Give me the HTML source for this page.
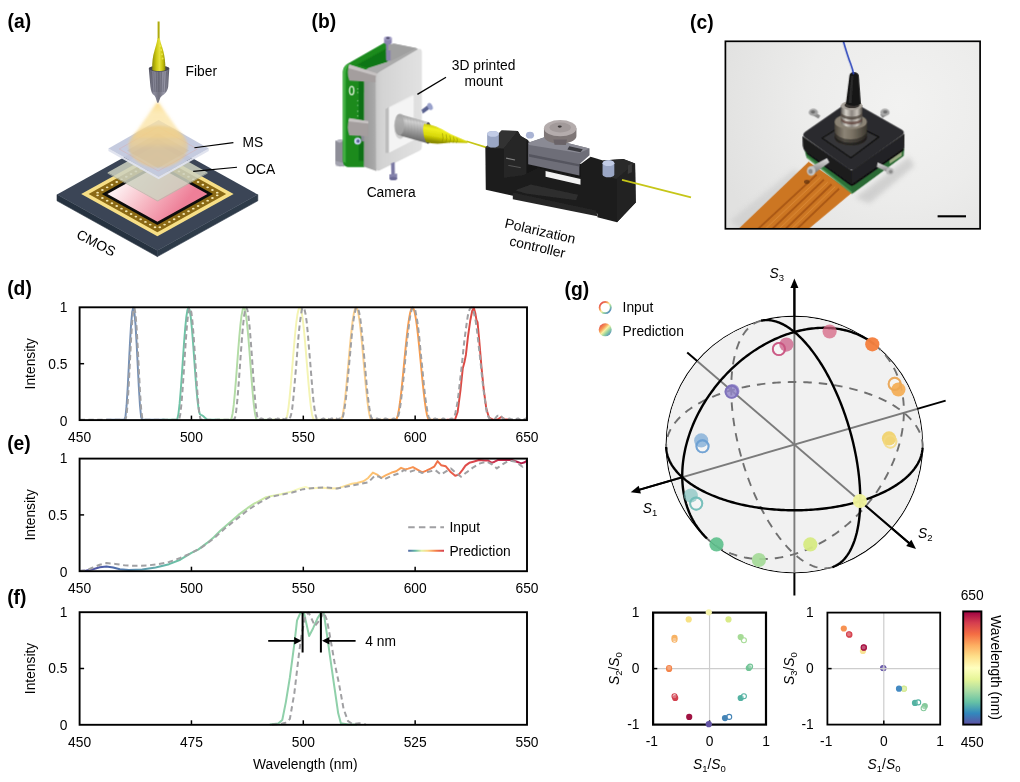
<!DOCTYPE html>
<html lang="en"><head><meta charset="utf-8"><title>Figure</title>
<style>
html,body{margin:0;padding:0;background:#fff;}
body{width:1020px;height:782px;overflow:hidden;font-family:"Liberation Sans",sans-serif;}
svg{display:block;}
text{font-family:"Liberation Sans",sans-serif;fill:#000;}
.lb{font-size:19.3px;font-weight:bold;}
.t{font-size:13.8px;}
.tk{font-size:13.8px;}
.it{font-style:italic;}
</style></head><body>
<svg width="1020" height="782" viewBox="0 0 1020 782">
<defs>

<clipPath id="cpd"><rect x="79.60" y="306.30" width="447.40" height="114.80"/></clipPath>
<linearGradient id="ge" gradientUnits="userSpaceOnUse" x1="79.60" y1="0" x2="527.00" y2="0"><stop offset="0.000" stop-color="#5e4fa2"/><stop offset="0.060" stop-color="#4a5fa8"/><stop offset="0.125" stop-color="#5a90b0"/><stop offset="0.200" stop-color="#66bba6"/><stop offset="0.275" stop-color="#7fcaa4"/><stop offset="0.375" stop-color="#b4dfa2"/><stop offset="0.440" stop-color="#e4f3a6"/><stop offset="0.500" stop-color="#fbfbc4"/><stop offset="0.575" stop-color="#fde9a0"/><stop offset="0.640" stop-color="#fdc878"/><stop offset="0.710" stop-color="#fba558"/><stop offset="0.780" stop-color="#f47d48"/><stop offset="0.850" stop-color="#e3524a"/><stop offset="0.925" stop-color="#cc3550"/><stop offset="1.000" stop-color="#b01848"/></linearGradient>
<linearGradient id="gl" gradientUnits="userSpaceOnUse" x1="408" y1="0" x2="444" y2="0"><stop offset="0" stop-color="#4f62a6"/><stop offset="0.2" stop-color="#66bba6"/><stop offset="0.38" stop-color="#e4f3a6"/><stop offset="0.55" stop-color="#fdd484"/><stop offset="0.78" stop-color="#f47d48"/><stop offset="1" stop-color="#d53e4f"/></linearGradient>
<clipPath id="cps"><circle cx="794.40" cy="444.60" r="127.80"/></clipPath>
<linearGradient id="glg" x1="0.1" y1="0.1" x2="0.9" y2="0.9"><stop offset="0" stop-color="#e2484c"/><stop offset="0.3" stop-color="#f79a55"/><stop offset="0.5" stop-color="#f6f0a0"/><stop offset="0.72" stop-color="#8fd0a0"/><stop offset="1" stop-color="#4f86c0"/></linearGradient>
<linearGradient id="gcb" x1="0" y1="0" x2="0" y2="1"><stop offset="0.00" stop-color="#9e0142"/><stop offset="0.10" stop-color="#d53e4f"/><stop offset="0.20" stop-color="#f46d43"/><stop offset="0.30" stop-color="#fdae61"/><stop offset="0.40" stop-color="#fee08b"/><stop offset="0.50" stop-color="#ffffbf"/><stop offset="0.60" stop-color="#e6f598"/><stop offset="0.70" stop-color="#abdda4"/><stop offset="0.80" stop-color="#66c2a5"/><stop offset="0.90" stop-color="#3288bd"/><stop offset="1.00" stop-color="#5e4fa2"/></linearGradient>
<filter id="bl04" x="-5%" y="-5%" width="110%" height="110%"><feGaussianBlur stdDeviation="0.45"/></filter>
<filter id="bl2" x="-20%" y="-20%" width="140%" height="140%"><feGaussianBlur stdDeviation="2.2"/></filter>
<linearGradient id="gpk" gradientUnits="userSpaceOnUse" x1="128" y1="176" x2="176" y2="214"><stop offset="0" stop-color="#fdeef0"/><stop offset="0.45" stop-color="#f7bcc6"/><stop offset="1" stop-color="#ee7f98"/></linearGradient>
<linearGradient id="gcone" gradientUnits="userSpaceOnUse" x1="0" y1="102" x2="0" y2="150"><stop offset="0" stop-color="#fbd87e" stop-opacity="0.85"/><stop offset="0.25" stop-color="#fce3a0" stop-opacity="0.6"/><stop offset="1" stop-color="#f8dc96" stop-opacity="0.42"/></linearGradient>
<filter id="bl1" x="-20%" y="-20%" width="140%" height="140%"><feGaussianBlur stdDeviation="1.3"/></filter>
<linearGradient id="gfy" x1="0" y1="0" x2="1" y2="0"><stop offset="0" stop-color="#8e8c06"/><stop offset="0.3" stop-color="#c9c60e"/><stop offset="0.55" stop-color="#e6e23a"/><stop offset="0.8" stop-color="#c4c00c"/><stop offset="1" stop-color="#8a8804"/></linearGradient>
<linearGradient id="gfg" x1="0" y1="0" x2="1" y2="0"><stop offset="0" stop-color="#555564"/><stop offset="0.25" stop-color="#8c8c9c"/><stop offset="0.5" stop-color="#70707e"/><stop offset="0.75" stop-color="#9a9aaa"/><stop offset="1" stop-color="#5a5a68"/></linearGradient>
<filter id="blb" x="-5%" y="-5%" width="110%" height="110%"><feGaussianBlur stdDeviation="2.2"/></filter>
<filter id="blb2" x="-5%" y="-5%" width="110%" height="110%"><feGaussianBlur stdDeviation="2.0"/></filter>
<linearGradient id="gbf" gradientUnits="userSpaceOnUse" x1="272" y1="300" x2="500" y2="300"><stop offset="0" stop-color="#c9c9c9"/><stop offset="0.12" stop-color="#d3d3d3"/><stop offset="0.6" stop-color="#dcdcdc"/><stop offset="1" stop-color="#e2e2e2"/></linearGradient>
<linearGradient id="gbs" gradientUnits="userSpaceOnUse" x1="214" y1="0" x2="280" y2="0"><stop offset="0" stop-color="#9a9a9a"/><stop offset="0.7" stop-color="#a6a6a6"/><stop offset="1" stop-color="#b2b2b2"/></linearGradient>
<linearGradient id="gbk" gradientUnits="userSpaceOnUse" x1="440" y1="410" x2="420" y2="530"><stop offset="0" stop-color="#8a8a8a"/><stop offset="0.3" stop-color="#d2d2d2"/><stop offset="0.6" stop-color="#a4a4a4"/><stop offset="1" stop-color="#6c6c6c"/></linearGradient>
<linearGradient id="gby" gradientUnits="userSpaceOnUse" x1="600" y1="460" x2="585" y2="550"><stop offset="0" stop-color="#b4b400"/><stop offset="0.35" stop-color="#f0f020"/><stop offset="0.7" stop-color="#d8d808"/><stop offset="1" stop-color="#8c8c00"/></linearGradient>
<clipPath id="cpc"><rect x="725.4" y="41.3" width="254.7" height="187.5"/></clipPath>
<filter id="blc" x="-5%" y="-5%" width="110%" height="110%"><feGaussianBlur stdDeviation="3"/></filter>
<filter id="blc8" x="-30%" y="-30%" width="160%" height="160%"><feGaussianBlur stdDeviation="14"/></filter>
<radialGradient id="gcbg" gradientUnits="userSpaceOnUse" cx="900" cy="105" r="190"><stop offset="0" stop-color="#f2f2f1"/><stop offset="0.5" stop-color="#ececeb"/><stop offset="1" stop-color="#e1e1e0"/></radialGradient>
<linearGradient id="gcm" gradientUnits="userSpaceOnUse" x1="305" y1="0" x2="485" y2="0"><stop offset="0" stop-color="#4c463c"/><stop offset="0.3" stop-color="#8c8476"/><stop offset="0.55" stop-color="#7a7264"/><stop offset="1" stop-color="#3e3a32"/></linearGradient>
<linearGradient id="gcs" gradientUnits="userSpaceOnUse" x1="338" y1="0" x2="462" y2="0"><stop offset="0" stop-color="#5a5650"/><stop offset="0.25" stop-color="#d8d4cc"/><stop offset="0.5" stop-color="#8c8680"/><stop offset="0.75" stop-color="#c8c2ba"/><stop offset="1" stop-color="#4a4640"/></linearGradient>
<linearGradient id="gcsc" x1="0" y1="0" x2="0" y2="1"><stop offset="0" stop-color="#e4e4e4"/><stop offset="0.5" stop-color="#a8a8a8"/><stop offset="1" stop-color="#6c6c6c"/></linearGradient>
</defs>
<rect width="1020" height="782" fill="#fff"/>
<g id="p_labels">
<text class="lb" x="7.6" y="27.6">(a)</text>
<text class="lb" x="311.6" y="27.6">(b)</text>
<text class="lb" x="690.0" y="28.6">(c)</text>
<text class="lb" x="7.2" y="294.6">(d)</text>
<text class="lb" x="7.2" y="449.6">(e)</text>
<text class="lb" x="7.2" y="604">(f)</text>
<text class="lb" x="564.6" y="296">(g)</text>
</g>
<g id="p_plots">
<g clip-path="url(#cpd)">
<path d="M106.44 419.80 L107.56 419.80 L108.68 419.80 L109.80 419.80 L110.92 419.80 L112.04 419.80 L113.16 419.80 L114.27 419.80 L115.39 419.80 L116.51 419.80 L117.63 419.80 L118.75 419.80 L119.87 419.80 L120.98 419.80 L122.10 419.80 L123.22 419.80 L124.34 419.80 L125.46 416.91 L126.58 405.69 L127.70 387.75 L128.81 365.96 L129.93 343.81 L131.05 324.84 L132.17 312.09 L133.29 307.60 L134.41 312.09 L135.52 324.84 L136.64 343.81 L137.76 365.96 L138.88 387.75 L140.00 405.69 L141.12 416.91 L142.24 419.80 L143.35 419.80 L144.47 419.80 L145.59 419.80 L146.71 419.80 L147.83 419.80 L148.95 419.80 L150.07 419.80 L151.18 419.80 L152.30 419.80 L153.42 419.80 L154.54 419.80 L155.66 419.80 L156.78 419.80 L157.89 419.80 L159.01 419.80 L160.13 419.80 L161.25 419.80 L162.37 419.80 L163.49 419.80 L164.61 419.80" fill="none" stroke="#7690b4" stroke-width="1.95" stroke-linejoin="round"/>
<path d="M161.70 419.80 L162.82 419.80 L163.93 419.80 L165.05 419.80 L166.17 419.80 L167.29 419.80 L168.41 419.80 L169.53 419.80 L170.65 419.80 L171.76 419.80 L172.88 419.80 L174.00 419.80 L175.12 419.80 L176.24 419.80 L177.36 418.92 L178.48 413.61 L179.59 403.95 L180.71 390.78 L181.83 375.26 L182.95 358.72 L184.07 342.62 L185.19 328.35 L186.30 317.17 L187.42 310.05 L188.54 307.60 L189.66 310.05 L190.78 317.17 L191.90 328.34 L193.02 342.31 L194.13 357.74 L195.25 373.35 L196.37 387.84 L197.49 400.05 L198.61 408.97 L199.73 413.90 L200.85 414.83 L201.96 415.28 L203.08 416.07 L204.20 417.07 L205.32 418.10 L206.44 418.99 L207.56 419.59 L208.67 419.80 L209.79 419.80 L210.91 419.80 L212.03 419.80 L213.15 419.80 L214.27 419.80 L215.39 419.80 L216.50 419.80 L217.62 419.80 L218.74 419.80 L219.86 419.80" fill="none" stroke="#6fc3a6" stroke-width="1.95" stroke-linejoin="round"/>
<path d="M216.95 419.80 L218.07 419.80 L219.19 419.80 L220.31 419.80 L221.43 419.80 L222.54 419.80 L223.66 419.80 L224.78 419.80 L225.90 419.80 L227.02 419.80 L228.14 419.80 L229.26 419.80 L230.37 419.80 L231.49 418.53 L232.61 413.48 L233.73 404.92 L234.85 393.46 L235.97 379.90 L237.08 365.19 L238.20 350.39 L239.32 336.52 L240.44 324.56 L241.56 315.37 L242.68 309.58 L243.80 307.60 L244.91 309.58 L246.03 315.37 L247.15 324.56 L248.27 336.52 L249.39 350.39 L250.51 365.19 L251.63 379.90 L252.74 393.46 L253.86 404.92 L254.98 413.48 L256.10 418.53 L257.22 419.80 L258.34 419.80 L259.45 419.80 L260.57 419.80 L261.69 419.80 L262.81 419.80 L263.93 419.80 L265.05 419.80 L266.17 419.80 L267.28 419.80 L268.40 419.80 L269.52 419.80 L270.64 419.80 L271.76 419.80 L272.88 419.80 L274.00 419.80 L275.11 419.80" fill="none" stroke="#b3dca6" stroke-width="1.95" stroke-linejoin="round"/>
<path d="M272.88 419.80 L274.00 419.80 L275.11 419.80 L276.23 419.80 L277.35 419.80 L278.47 419.80 L279.59 419.80 L280.71 419.80 L281.82 419.80 L282.94 419.80 L284.06 419.80 L285.18 419.80 L286.30 418.72 L287.42 414.41 L288.54 407.07 L289.65 397.12 L290.77 385.17 L291.89 371.93 L293.01 358.20 L294.13 344.80 L295.25 332.53 L296.37 322.13 L297.48 314.22 L298.60 309.28 L299.72 307.60 L300.84 309.28 L301.96 314.22 L303.08 322.13 L304.19 332.53 L305.31 344.80 L306.43 358.20 L307.55 371.93 L308.67 385.17 L309.79 397.12 L310.91 407.07 L312.02 414.41 L313.14 418.72 L314.26 419.80 L315.38 419.80 L316.50 419.80 L317.62 419.80 L318.74 419.80 L319.85 419.80 L320.97 419.80 L322.09 419.80 L323.21 419.80 L324.33 419.80 L325.45 419.80 L326.56 419.80 L327.68 419.80 L328.80 419.80 L329.92 419.80 L331.04 419.80" fill="none" stroke="#f4f4b4" stroke-width="1.95" stroke-linejoin="round"/>
<path d="M329.25 419.80 L330.37 419.80 L331.49 419.80 L332.60 419.80 L333.72 419.80 L334.84 419.80 L335.96 419.80 L337.08 419.80 L338.20 419.80 L339.32 419.80 L340.43 419.80 L341.55 418.87 L342.67 415.16 L343.79 408.78 L344.91 400.09 L346.03 389.51 L347.15 377.60 L348.26 364.98 L349.38 352.29 L350.50 340.18 L351.62 329.30 L352.74 320.18 L353.86 313.32 L354.97 309.05 L356.09 307.60 L357.21 309.05 L358.33 313.32 L359.45 320.18 L360.57 329.30 L361.69 340.18 L362.80 352.29 L363.92 364.98 L365.04 377.60 L366.16 389.51 L367.28 400.09 L368.40 408.78 L369.52 415.16 L370.63 418.87 L371.75 419.80 L372.87 419.80 L373.99 419.80 L375.11 419.80 L376.23 419.80 L377.34 419.80 L378.46 419.80 L379.58 419.80 L380.70 419.80 L381.82 419.80 L382.94 419.80 L384.06 419.80 L385.17 419.80 L386.29 419.80 L387.41 419.80" fill="none" stroke="#fbcf8e" stroke-width="1.95" stroke-linejoin="round"/>
<path d="M385.62 419.80 L386.74 419.80 L387.86 419.80 L388.98 419.80 L390.10 419.80 L391.21 419.80 L392.33 419.80 L393.45 419.80 L394.57 419.80 L395.69 419.80 L396.81 418.57 L397.93 414.95 L399.04 409.09 L400.16 401.24 L401.28 391.75 L402.40 381.04 L403.52 369.56 L404.64 357.84 L405.75 346.36 L406.87 335.65 L407.99 326.16 L409.11 318.31 L410.23 312.45 L411.35 308.83 L412.47 307.60 L413.58 308.83 L414.70 312.45 L415.82 318.31 L416.94 326.16 L418.06 335.65 L419.18 346.36 L420.30 357.84 L421.41 369.56 L422.53 381.04 L423.65 391.75 L424.77 401.24 L425.89 409.09 L427.01 414.95 L428.12 418.57 L429.24 419.80 L430.36 419.80 L431.48 419.80 L432.60 419.80 L433.72 419.80 L434.84 419.80 L435.95 419.80 L437.07 419.80 L438.19 419.80 L439.31 419.80 L440.43 419.80 L441.55 419.80 L442.67 419.80 L443.78 419.80" fill="none" stroke="#f89c4e" stroke-width="1.95" stroke-linejoin="round"/>
<path d="M446.47 419.80 L454.97 419.80 L457.65 411.95 L460.56 389.51 L462.80 368.19 L464.36 362.58 L465.93 354.72 L467.94 336.77 L470.18 321.06 L472.19 310.97 L473.76 307.60 L475.33 313.21 L476.44 319.94 L477.56 322.19 L479.13 339.02 L481.37 365.94 L483.60 388.38 L486.29 408.58 L488.97 417.56 L493.44 419.80 L497.92 419.24 L501.27 417.00 L504.63 419.24 L509.10 419.80" fill="none" stroke="#dc4a44" stroke-width="1.95" stroke-linejoin="round"/>
<path d="M79.60 419.80 L80.72 419.80 L81.84 419.80 L82.96 419.80 L84.07 419.80 L85.19 419.80 L86.31 419.80 L87.43 419.80 L88.55 419.80 L89.67 419.80 L90.78 419.80 L91.90 419.80 L93.02 419.80 L94.14 419.80 L95.26 419.80 L96.38 419.80 L97.50 419.80 L98.61 419.80 L99.73 419.80 L100.85 419.80 L101.97 419.80 L103.09 419.80 L104.21 419.80 L105.33 419.80 L106.44 419.80 L107.56 419.80 L108.68 419.80 L109.80 419.80 L110.92 419.80 L112.04 419.80 L113.16 419.80 L114.27 419.80 L115.39 419.80 L116.51 419.80 L117.63 419.80 L118.75 419.80 L119.87 419.80 L120.98 419.80 L122.10 419.80 L123.22 419.80 L124.34 419.80 L125.46 419.80 L126.58 415.31 L127.70 402.56 L128.81 383.59 L129.93 361.44 L131.05 339.65 L132.17 321.71 L133.29 310.49 L134.41 307.78 L135.52 314.03 L136.64 328.22 L137.76 348.09 L138.88 370.46 L140.00 391.75 L141.12 408.55 L142.24 418.17 L143.35 419.80 L144.47 419.80 L145.59 419.80 L146.71 419.80 L147.83 419.80 L148.95 419.80 L150.07 419.80 L151.18 419.80 L152.30 419.80 L153.42 419.80 L154.54 419.80 L155.66 419.80 L156.78 419.80 L157.89 419.80 L159.01 419.80 L160.13 419.80 L161.25 419.80 L162.37 419.80 L163.49 419.80 L164.61 419.80 L165.72 419.80 L166.84 419.80 L167.96 419.80 L169.08 419.80 L170.20 419.80 L171.32 419.80 L172.44 419.80 L173.55 419.80 L174.67 419.80 L175.79 419.80 L176.91 419.80 L178.03 419.80 L179.15 419.36 L180.26 414.46 L181.38 404.60 L182.50 390.73 L183.62 374.21 L184.74 356.67 L185.86 339.81 L186.98 325.30 L188.09 314.54 L189.21 308.59 L190.33 308.04 L191.45 312.94 L192.57 322.80 L193.69 336.67 L194.81 353.19 L195.92 370.73 L197.04 387.59 L198.16 402.10 L199.28 412.86 L200.40 418.81 L201.52 419.80 L202.63 419.80 L203.75 419.80 L204.87 419.80 L205.99 419.80 L207.11 419.80 L208.23 419.80 L209.35 419.80 L210.46 419.80 L211.58 419.80 L212.70 419.80 L213.82 419.80 L214.94 419.80 L216.06 419.80 L217.18 419.80 L218.29 419.80 L219.41 419.80 L220.53 419.80 L221.65 419.80 L222.77 419.80 L223.89 419.80 L225.00 419.80 L226.12 419.80 L227.24 419.80 L228.36 419.80 L229.48 419.80 L230.60 419.80 L231.72 419.80 L232.83 419.80 L233.95 419.80 L235.07 417.53 L236.19 410.89 L237.31 400.44 L238.43 387.00 L239.55 371.68 L240.66 355.72 L241.78 340.40 L242.90 326.96 L244.02 316.51 L245.14 309.87 L246.26 307.60 L247.37 309.87 L248.49 316.51 L249.61 326.96 L250.73 340.40 L251.85 355.72 L252.97 371.68 L254.09 387.00 L255.20 400.44 L256.32 410.89 L257.44 417.53 L258.56 419.80 L259.68 419.52 L260.80 418.62 L261.92 418.53 L263.03 419.30 L264.15 419.19 L265.27 418.50 L266.39 418.69 L267.51 419.64 L268.63 418.90 L269.75 418.45 L270.86 418.92 L271.98 419.61 L273.10 418.68 L274.22 418.50 L275.34 419.21 L276.46 419.28 L277.57 418.52 L278.69 418.64 L279.81 419.54 L280.93 418.98 L282.05 418.46 L283.17 418.85 L284.29 419.71 L285.40 418.73 L286.52 418.48 L287.64 419.12 L288.76 419.37 L289.88 418.27 L291.00 415.10 L292.12 409.39 L293.23 399.50 L294.35 387.07 L295.47 373.97 L296.59 360.84 L297.71 345.90 L298.83 332.69 L299.94 322.28 L301.06 314.32 L302.18 308.19 L303.30 307.60 L304.42 308.94 L305.54 314.00 L306.66 321.72 L307.77 332.94 L308.89 346.79 L310.01 359.93 L311.13 373.65 L312.25 387.56 L313.37 400.01 L314.49 408.60 L315.60 415.02 L316.72 418.96 L317.84 419.24 L318.96 418.51 L320.08 418.66 L321.20 419.58 L322.31 418.94 L323.43 418.45 L324.55 418.88 L325.67 419.67 L326.79 418.71 L327.91 418.49 L329.03 419.16 L330.14 419.33 L331.26 418.54 L332.38 418.61 L333.50 419.49 L334.62 419.02 L335.74 418.46 L336.86 418.81 L337.97 419.77 L339.09 418.77 L340.21 418.47 L341.33 419.07 L342.45 418.50 L343.57 413.94 L344.68 407.55 L345.80 399.67 L346.92 388.82 L348.04 376.28 L349.16 363.92 L350.28 352.22 L351.40 339.22 L352.51 327.95 L353.63 319.37 L354.75 313.04 L355.87 307.88 L356.99 307.60 L358.11 308.54 L359.23 312.71 L360.34 318.88 L361.46 328.18 L362.58 340.01 L363.70 351.40 L364.82 363.63 L365.94 376.72 L367.05 389.33 L368.17 398.97 L369.29 407.48 L370.41 414.56 L371.53 418.36 L372.65 418.53 L373.77 418.63 L374.88 419.53 L376.00 418.99 L377.12 418.46 L378.24 418.84 L379.36 419.72 L380.48 418.74 L381.60 418.48 L382.71 419.11 L383.83 419.38 L384.95 418.56 L386.07 418.58 L387.19 419.43 L388.31 419.07 L389.42 418.47 L390.54 418.77 L391.66 419.78 L392.78 418.80 L393.90 418.46 L395.02 419.03 L396.14 419.48 L397.25 418.16 L398.37 415.42 L399.49 411.22 L400.61 403.95 L401.73 394.40 L402.85 384.35 L403.96 374.09 L405.08 361.60 L406.20 349.54 L407.32 338.96 L408.44 329.56 L409.56 320.09 L410.68 313.25 L411.79 309.44 L412.91 307.60 L414.03 307.60 L415.15 309.57 L416.27 315.49 L417.39 321.96 L418.51 330.34 L419.62 341.03 L420.74 353.07 L421.86 363.79 L422.98 375.20 L424.10 386.94 L425.22 397.16 L426.34 404.91 L427.45 411.67 L428.57 417.08 L429.69 418.83 L430.81 418.46 L431.93 418.80 L433.05 419.78 L434.16 418.77 L435.28 418.47 L436.40 419.07 L437.52 419.44 L438.64 418.59 L439.76 418.56 L440.88 419.38 L441.99 419.12 L443.11 418.48 L444.23 418.74 L445.35 419.72 L446.47 418.84 L447.59 418.46 L448.70 418.98 L449.82 419.53 L450.94 418.63 L452.06 418.53 L453.18 419.13 L454.30 417.25 L455.42 412.81 L456.53 407.46 L457.65 401.27 L458.77 392.08 L459.89 382.09 L461.01 372.32 L462.13 362.47 L463.25 350.99 L464.36 340.68 L465.48 332.04 L466.60 323.90 L467.72 316.31 L468.84 311.22 L469.96 308.76 L471.07 307.60 L472.19 307.60 L473.31 309.86 L474.43 315.23 L475.55 320.44 L476.67 327.87 L477.79 337.44 L478.90 347.58 L480.02 357.17 L481.14 367.78 L482.26 379.04 L483.38 388.54 L484.50 396.87 L485.62 404.87 L486.73 412.07 L487.85 415.59 L488.97 417.82 L490.09 419.02 L491.21 419.49 L492.33 418.61 L493.44 418.54 L494.56 419.01 L495.68 418.00 L496.80 416.29 L497.92 415.66 L499.04 416.30 L500.16 415.84 L501.27 416.25 L502.39 417.78 L503.51 419.27 L504.63 418.66 L505.75 418.51 L506.87 419.24 L507.99 419.25 L509.10 418.52 L510.22 418.65 L511.34 419.57 L512.46 418.96 L513.58 418.45 L514.70 418.87 L515.81 419.69 L516.93 418.72 L518.05 418.48 L519.17 419.15 L520.29 419.35 L521.41 418.55 L522.53 418.60 L523.64 419.47 L524.76 419.04 L525.88 418.46 L527.00 418.80" fill="none" stroke="#a0a0a3" stroke-width="2" stroke-dasharray="5.4 3.4" stroke-linejoin="round"/>
</g>
<rect x="79.60" y="307.30" width="447.40" height="112.80" fill="none" stroke="#000" stroke-width="1.9"/>
<path d="M79.60 363.70h4.5" stroke="#000" stroke-width="1.5" fill="none"/>
<path d="M191.45 420.10v-4.5" stroke="#000" stroke-width="1.5" fill="none"/>
<path d="M303.30 420.10v-4.5" stroke="#000" stroke-width="1.5" fill="none"/>
<path d="M415.15 420.10v-4.5" stroke="#000" stroke-width="1.5" fill="none"/>
<text class="tk" text-anchor="middle" x="79.60" y="442.30">450</text>
<text class="tk" text-anchor="middle" x="191.45" y="442.30">500</text>
<text class="tk" text-anchor="middle" x="303.30" y="442.30">550</text>
<text class="tk" text-anchor="middle" x="415.15" y="442.30">600</text>
<text class="tk" text-anchor="middle" x="527.00" y="442.30">650</text>
<text class="tk" text-anchor="end" x="67.4" y="312.10">1</text>
<text class="tk" text-anchor="end" x="67.4" y="368.50">0.5</text>
<text class="tk" text-anchor="end" x="67.4" y="425.70">0</text>
<text class="t" text-anchor="middle" transform="translate(35.3 363.70) rotate(-90)">Intensity</text>
<path d="M79.60 570.90 L86.31 570.56 L93.02 569.22 L99.73 567.32 L106.44 566.42 L113.16 567.54 L119.87 569.22 L128.81 570.00 L142.24 569.56 L155.66 567.54 L169.08 564.18 L180.26 559.70 L191.45 552.98 L198.16 549.62 L207.11 542.90 L213.82 537.30 L220.53 530.58 L229.48 522.74 L238.43 514.90 L247.37 508.18 L254.09 503.70 L258.56 501.46 L265.27 497.54 L271.98 495.86 L280.93 494.18 L292.12 491.38 L299.94 488.36 L305.54 486.90 L310.01 488.58 L316.72 488.02 L323.43 487.68 L330.14 488.58 L337.75 488.36 L343.57 486.34 L351.84 483.76 L356.99 482.98 L363.48 481.30 L368.17 477.94 L372.87 472.56 L377.12 474.58 L381.15 477.94 L386.07 475.14 L391.66 472.56 L396.14 471.22 L401.06 467.86 L405.08 469.54 L408.22 468.64 L412.91 467.08 L417.39 469.54 L422.31 472.34 L426.34 470.66 L430.59 468.64 L434.16 466.74 L437.52 461.14 L441.10 465.17 L445.80 466.29 L450.94 472.34 L455.19 475.70 L458.77 474.58 L462.35 470.10 L465.48 465.62 L469.29 462.82 L473.31 461.70 L478.90 460.02 L484.50 460.58 L488.30 460.58 L491.66 462.82 L494.56 461.70 L497.70 460.02 L504.63 459.80 L511.79 460.02 L516.93 461.70 L521.18 463.38 L524.76 462.26 L527.00 460.58" fill="none" stroke="url(#ge)" stroke-width="2" stroke-linejoin="round"/>
<path d="M79.60 570.90 L86.31 570.34 L93.02 567.54 L99.73 564.74 L106.44 563.06 L115.39 563.96 L124.34 565.30 L135.52 565.86 L146.71 565.52 L157.89 564.18 L169.08 561.94 L180.26 558.02 L191.45 552.98 L202.63 546.82 L213.82 538.42 L225.00 528.34 L236.19 519.38 L247.37 510.42 L258.56 503.14 L269.75 496.98 L280.93 494.74 L292.12 492.50 L303.30 489.14 L314.49 488.02 L325.67 487.46 L336.86 488.58 L348.04 486.34 L359.23 484.10 L368.17 482.42 L374.88 475.70 L379.36 476.82 L383.83 479.62 L390.54 476.26 L397.25 474.02 L403.96 470.10 L409.56 471.78 L415.15 470.10 L421.86 472.90 L428.57 471.78 L435.28 470.10 L440.88 474.58 L446.47 471.22 L450.94 468.42 L456.53 473.46 L461.01 476.82 L466.60 472.34 L473.31 467.30 L480.02 463.38 L486.73 461.70 L492.33 464.50 L496.80 468.42 L502.39 464.50 L509.10 460.58 L515.81 461.70 L522.53 466.74 L527.00 463.94" fill="none" stroke="#a0a0a3" stroke-width="2" stroke-dasharray="5.4 3.6" stroke-linejoin="round"/>
<rect x="79.60" y="458.60" width="447.40" height="112.60" fill="none" stroke="#000" stroke-width="1.9"/>
<path d="M79.60 514.90h4.5" stroke="#000" stroke-width="1.5" fill="none"/>
<path d="M191.45 571.20v-4.5" stroke="#000" stroke-width="1.5" fill="none"/>
<path d="M303.30 571.20v-4.5" stroke="#000" stroke-width="1.5" fill="none"/>
<path d="M415.15 571.20v-4.5" stroke="#000" stroke-width="1.5" fill="none"/>
<text class="tk" text-anchor="middle" x="79.60" y="593.40">450</text>
<text class="tk" text-anchor="middle" x="191.45" y="593.40">500</text>
<text class="tk" text-anchor="middle" x="303.30" y="593.40">550</text>
<text class="tk" text-anchor="middle" x="415.15" y="593.40">600</text>
<text class="tk" text-anchor="middle" x="527.00" y="593.40">650</text>
<text class="tk" text-anchor="end" x="67.4" y="463.40">1</text>
<text class="tk" text-anchor="end" x="67.4" y="519.70">0.5</text>
<text class="tk" text-anchor="end" x="67.4" y="576.80">0</text>
<text class="t" text-anchor="middle" transform="translate(35.3 514.90) rotate(-90)">Intensity</text>
<path d="M408.2 527.2H444" fill="none" stroke="#a0a0a3" stroke-width="1.9" stroke-dasharray="6.5 4.2"/>
<path d="M408.2 550.7H444" fill="none" stroke="url(#gl)" stroke-width="1.9"/>
<text class="t" x="449.4" y="532.4">Input</text>
<text class="t" x="449.4" y="555.6">Prediction</text>
<path d="M269.75 724.50 L278.25 723.60 L282.27 720.02 L285.85 702.10 L289.88 677.46 L294.35 643.86 L297.04 620.34 L300.62 612.50 L304.19 613.62 L309.12 636.02 L313.14 628.18 L317.62 618.10 L321.20 612.50 L323.88 613.62 L327.01 634.90 L330.14 657.30 L334.62 688.66 L338.20 713.30 L340.88 723.16 L348.04 724.50 L356.99 724.50" fill="none" stroke="#8fd0aa" stroke-width="2" stroke-linejoin="round"/>
<path d="M271.98 724.50 L280.93 723.94 L285.40 722.82 L289.88 718.90 L294.35 693.14 L298.83 655.06 L301.51 634.90 L305.54 615.86 L308.67 612.50 L314.93 625.94 L319.41 620.34 L323.88 612.50 L327.01 620.34 L330.14 637.14 L334.62 662.90 L339.09 684.18 L343.57 708.82 L348.04 721.14 L352.51 723.94 L359.23 723.16 L365.94 724.50" fill="none" stroke="#a0a0a3" stroke-width="2" stroke-dasharray="5.4 3.6" stroke-linejoin="round"/>
<rect x="79.60" y="612.20" width="447.40" height="112.60" fill="none" stroke="#000" stroke-width="1.9"/>
<path d="M79.60 668.50h4.5" stroke="#000" stroke-width="1.5" fill="none"/>
<path d="M191.45 724.80v-4.5" stroke="#000" stroke-width="1.5" fill="none"/>
<path d="M303.30 724.80v-4.5" stroke="#000" stroke-width="1.5" fill="none"/>
<path d="M415.15 724.80v-4.5" stroke="#000" stroke-width="1.5" fill="none"/>
<text class="tk" text-anchor="middle" x="79.60" y="747.00">450</text>
<text class="tk" text-anchor="middle" x="191.45" y="747.00">475</text>
<text class="tk" text-anchor="middle" x="303.30" y="747.00">500</text>
<text class="tk" text-anchor="middle" x="415.15" y="747.00">525</text>
<text class="tk" text-anchor="middle" x="527.00" y="747.00">550</text>
<text class="tk" text-anchor="end" x="67.4" y="617.00">1</text>
<text class="tk" text-anchor="end" x="67.4" y="673.30">0.5</text>
<text class="tk" text-anchor="end" x="67.4" y="730.40">0</text>
<text class="t" text-anchor="middle" transform="translate(35.3 668.50) rotate(-90)">Intensity</text>
<path d="M302.6 612.5V652.6M320.9 612.5V652.6" stroke="#000" stroke-width="2" fill="none"/>
<path d="M268.2 640.8H296M355.6 640.8H328" stroke="#000" stroke-width="1.8" fill="none"/>
<path d="M301.6 640.8l-7.4 -3.7v7.4zM322 640.8l7.4 -3.7v7.4z" fill="#000"/>
<text class="t" x="365.3" y="645.8">4 nm</text>
<text class="t" text-anchor="middle" x="305.3" y="769.3">Wavelength (nm)</text>
</g>
<g id="p_sphere">
<circle cx="794.40" cy="444.60" r="128.20" fill="#f1f1f1" stroke="#000" stroke-width="1.1"/>
<path d="M635.49 490.84L945.63 400.59" stroke="#000" stroke-width="2" fill="none"/>
<path d="M912.20 545.80L687.22 352.52" stroke="#000" stroke-width="2" fill="none"/>
<path d="M794.40 283.60L794.40 595.60" stroke="#000" stroke-width="2" fill="none"/>
<circle cx="794.40" cy="444.60" r="128.20" fill="#f1f1f1" clip-path="url(#cps)"/>
<path d="M635.49 490.84L945.63 400.59" stroke="#7b7b7b" stroke-width="1.9" fill="none" clip-path="url(#cps)"/>
<path d="M912.20 545.80L687.22 352.52" stroke="#7b7b7b" stroke-width="1.9" fill="none" clip-path="url(#cps)"/>
<path d="M794.40 283.60L794.40 595.60" stroke="#7b7b7b" stroke-width="1.9" fill="none" clip-path="url(#cps)"/>
<path d="M922.60 447.73 L922.63 446.61 L922.63 445.50 L922.59 444.38 L922.51 443.26 L922.39 442.14 L922.23 441.03 L922.03 439.91 L921.79 438.80 L921.52 437.70 L921.21 436.59 L920.86 435.49 L920.47 434.39 L920.04 433.30 L919.57 432.21 L919.07 431.12 L918.53 430.04 L917.95 428.97 L917.34 427.90 L916.69 426.84 L916.00 425.78 L915.28 424.73 L914.52 423.69 L913.72 422.65 L912.89 421.62 L912.03 420.60 L911.13 419.59 L910.19 418.58 L909.22 417.58 L908.22 416.60 L907.18 415.62 L906.11 414.65 L905.01 413.69 L903.88 412.74 L902.71 411.80 L901.51 410.87 L900.28 409.96 L899.02 409.05 L897.73 408.16 L896.40 407.27 L895.05 406.40 L893.67 405.54 L892.26 404.69 L890.82 403.86 L889.35 403.04 L887.86 402.23 L886.34 401.43 L884.79 400.65 L883.22 399.88 L881.62 399.12 L879.99 398.38 L878.34 397.66 L876.67 396.94 L874.97 396.25 L873.25 395.56 L871.51 394.90 L869.74 394.24 L867.96 393.61 L866.15 392.98 L864.32 392.38 L862.47 391.79 L860.60 391.21 L858.71 390.66 L856.81 390.11 L854.89 389.59 L852.94 389.08 L850.99 388.59 L849.01 388.11 L847.02 387.66 L845.02 387.21 L843.00 386.79 L840.97 386.38 L838.92 386.00 L836.87 385.62 L834.79 385.27 L832.71 384.94 L830.62 384.62 L828.52 384.32 L826.40 384.04 L824.28 383.77 L822.15 383.53 L820.01 383.30 L817.87 383.09 L815.72 382.90 L813.56 382.73 L811.39 382.57 L809.23 382.44 L807.05 382.32 L804.88 382.22 L802.70 382.14 L800.52 382.08 L798.33 382.04 L796.15 382.01 L793.96 382.01 L791.78 382.02 L789.59 382.05 L787.41 382.10 L785.23 382.17 L783.05 382.26 L780.88 382.36 L778.71 382.49 L776.54 382.63 L774.38 382.79 L772.22 382.97 L770.07 383.17 L767.93 383.39 L765.80 383.62 L763.67 383.87 L761.55 384.15 L759.44 384.44 L757.34 384.74 L755.25 385.07 L753.18 385.41 L751.11 385.77 L749.06 386.15 L747.02 386.54 L744.99 386.96 L742.98 387.39 L740.98 387.84 L738.99 388.30 L737.03 388.78 L735.08 389.28 L733.14 389.80 L731.23 390.33 L729.33 390.88 L727.45 391.44 L725.59 392.02 L723.75 392.62 L721.93 393.23 L720.13 393.86 L718.35 394.50 L716.59 395.16 L714.86 395.84 L713.15 396.52 L711.46 397.23 L709.79 397.95 L708.15 398.68 L706.54 399.43 L704.95 400.19 L703.39 400.96 L701.85 401.75 L700.34 402.55 L698.86 403.36 L697.40 404.19 L695.97 405.03 L694.57 405.88 L693.20 406.75 L691.86 407.62 L690.55 408.51 L689.27 409.41 L688.03 410.32 L686.81 411.24 L685.62 412.18 L684.47 413.12 L683.34 414.07 L682.25 415.04 L681.20 416.01 L680.18 416.99 L679.19 417.98 L678.23 418.98 L677.31 419.99 L676.42 421.01 L675.57 422.03 L674.75 423.06 L673.97 424.10 L673.23 425.15 L672.52 426.20 L671.85 427.26 L671.21 428.33 L670.61 429.40 L670.05 430.47 L669.52 431.56 L669.04 432.64 L668.59 433.73 L668.17 434.83 L667.80 435.93 L667.46 437.03 L667.17 438.14 L666.91 439.25 L666.69 440.36 L666.50 441.47 L666.36 442.59 L666.26 443.71 L666.19 444.82 L666.16 445.94 L666.18 447.06" fill="none" stroke="#707070" stroke-width="1.9" stroke-dasharray="8.5 7"/>
<path d="M874.18 344.19 L875.48 345.24 L876.77 346.32 L878.02 347.43 L879.25 348.57 L880.45 349.74 L881.63 350.93 L882.77 352.15 L883.89 353.40 L884.99 354.68 L886.05 355.99 L887.09 357.32 L888.09 358.67 L889.07 360.05 L890.02 361.46 L890.94 362.89 L891.82 364.34 L892.68 365.82 L893.51 367.32 L894.31 368.84 L895.08 370.39 L895.81 371.95 L896.52 373.54 L897.19 375.15 L897.83 376.78 L898.44 378.42 L899.02 380.09 L899.57 381.78 L900.08 383.48 L900.57 385.20 L901.02 386.94 L901.43 388.69 L901.82 390.46 L902.17 392.25 L902.49 394.05 L902.78 395.86 L903.03 397.69 L903.25 399.53 L903.44 401.39 L903.59 403.25 L903.72 405.13 L903.81 407.02 L903.86 408.92 L903.89 410.82 L903.88 412.74 L903.83 414.67 L903.76 416.60 L903.65 418.54 L903.51 420.49 L903.33 422.45 L903.13 424.41 L902.89 426.38 L902.62 428.35 L902.31 430.32 L901.98 432.30 L901.61 434.28 L901.21 436.27 L900.77 438.25 L900.31 440.24 L899.81 442.23 L899.29 444.21 L898.73 446.20 L898.14 448.19 L897.52 450.17 L896.87 452.15 L896.18 454.13 L895.47 456.11 L894.73 458.08 L893.96 460.04 L893.16 462.01 L892.33 463.96 L891.46 465.91 L890.58 467.85 L889.66 469.79 L888.71 471.72 L887.74 473.63 L886.74 475.54 L885.71 477.44 L884.65 479.33 L883.57 481.21 L882.46 483.08 L881.32 484.94 L880.16 486.78 L878.97 488.61 L877.76 490.43 L876.52 492.23 L875.26 494.02 L873.98 495.80 L872.67 497.56 L871.33 499.30 L869.98 501.03 L868.60 502.74 L867.20 504.43 L865.78 506.10 L864.33 507.76 L862.87 509.40 L861.38 511.02 L859.88 512.61 L858.35 514.19 L856.81 515.75 L855.25 517.28 L853.67 518.80 L852.07 520.29 L850.45 521.76 L848.82 523.21 L847.17 524.63 L845.50 526.03 L843.82 527.41 L842.12 528.76 L840.41 530.08 L838.69 531.38 L836.95 532.66 L835.20 533.91 L833.43 535.13 L831.66 536.32 L829.87 537.49 L828.07 538.63 L826.26 539.75 L824.44 540.83 L822.61 541.89 L820.77 542.91 L818.93 543.91 L817.07 544.88 L815.21 545.82 L813.34 546.73 L811.47 547.61 L809.59 548.45 L807.70 549.27 L805.81 550.06 L803.92 550.81 L802.02 551.53 L800.12 552.22 L798.21 552.88 L796.31 553.51 L794.40 554.10 L792.49 554.67 L790.58 555.19 L788.68 555.69 L786.77 556.15 L784.87 556.58 L782.96 556.98 L781.06 557.34 L779.16 557.67 L777.27 557.96 L775.38 558.22 L773.50 558.45 L771.62 558.64 L769.74 558.80 L767.87 558.92 L766.01 559.01 L764.16 559.06 L762.32 559.08 L760.48 559.07 L758.66 559.02 L756.84 558.94 L755.03 558.82 L753.24 558.67 L751.45 558.48 L749.68 558.26 L747.92 558.00 L746.17 557.71 L744.44 557.39 L742.72 557.03 L741.02 556.63 L739.33 556.20 L737.66 555.74 L736.00 555.25 L734.36 554.72 L732.73 554.15 L731.13 553.56 L729.54 552.93 L727.97 552.26 L726.42 551.57 L724.89 550.84 L723.38 550.07 L721.89 549.28 L720.42 548.45 L718.98 547.59 L717.55 546.70 L716.15 545.78 L714.77 544.82 L713.42 543.84 L712.08 542.82 L710.78 541.78 L709.49 540.70 L708.24 539.59 L707.00 538.45" fill="none" stroke="#707070" stroke-width="1.9" stroke-dasharray="8.5 7"/>
<path d="M761.15 320.75 L760.20 320.99 L759.27 321.27 L758.34 321.59 L757.43 321.95 L756.53 322.34 L755.65 322.76 L754.77 323.23 L753.91 323.73 L753.06 324.27 L752.23 324.84 L751.40 325.45 L750.60 326.10 L749.80 326.78 L749.02 327.49 L748.26 328.24 L747.51 329.03 L746.77 329.85 L746.05 330.70 L745.34 331.59 L744.65 332.51 L743.98 333.46 L743.32 334.45 L742.68 335.47 L742.05 336.52 L741.44 337.60 L740.85 338.71 L740.27 339.86 L739.71 341.04 L739.16 342.24 L738.64 343.48 L738.13 344.74 L737.64 346.04 L737.16 347.36 L736.70 348.71 L736.26 350.09 L735.84 351.50 L735.44 352.93 L735.05 354.39 L734.68 355.88 L734.34 357.39 L734.00 358.93 L733.69 360.49 L733.40 362.08 L733.12 363.69 L732.86 365.32 L732.62 366.97 L732.40 368.65 L732.20 370.35 L732.02 372.07 L731.86 373.81 L731.71 375.58 L731.58 377.36 L731.48 379.16 L731.39 380.98 L731.32 382.81 L731.27 384.67 L731.23 386.54 L731.22 388.42 L731.23 390.33 L731.25 392.25 L731.29 394.18 L731.36 396.13 L731.44 398.09 L731.54 400.06 L731.65 402.05 L731.79 404.05 L731.95 406.06 L732.12 408.08 L732.31 410.11 L732.52 412.15 L732.75 414.20 L733.00 416.26 L733.27 418.32 L733.55 420.40 L733.85 422.48 L734.17 424.56 L734.51 426.65 L734.87 428.75 L735.24 430.85 L735.63 432.95 L736.04 435.06 L736.46 437.17 L736.90 439.28 L737.36 441.39 L737.84 443.50 L738.33 445.62 L738.84 447.73 L739.37 449.84 L739.91 451.95 L740.47 454.06 L741.05 456.16 L741.64 458.26 L742.24 460.36 L742.86 462.45 L743.50 464.54 L744.15 466.62 L744.82 468.70 L745.50 470.76 L746.20 472.82 L746.91 474.88 L747.63 476.92 L748.37 478.95 L749.13 480.98 L749.89 482.99 L750.67 484.99 L751.46 486.98 L752.27 488.96 L753.09 490.93 L753.92 492.88 L754.76 494.82 L755.62 496.74 L756.49 498.65 L757.36 500.55 L758.25 502.42 L759.15 504.28 L760.07 506.13 L760.99 507.95 L761.92 509.76 L762.86 511.55 L763.82 513.32 L764.78 515.07 L765.75 516.80 L766.73 518.51 L767.72 520.19 L768.71 521.86 L769.72 523.50 L770.73 525.12 L771.75 526.72 L772.78 528.29 L773.81 529.84 L774.86 531.37 L775.90 532.87 L776.96 534.34 L778.02 535.79 L779.08 537.21 L780.15 538.60 L781.23 539.97 L782.31 541.31 L783.39 542.62 L784.48 543.91 L785.57 545.16 L786.67 546.38 L787.77 547.58 L788.87 548.74 L789.97 549.88 L791.07 550.98 L792.18 552.05 L793.29 553.09 L794.40 554.10 L795.51 555.08 L796.62 556.02 L797.73 556.94 L798.84 557.81 L799.95 558.66 L801.06 559.47 L802.17 560.25 L803.28 560.99 L804.38 561.70 L805.49 562.37 L806.59 563.01 L807.68 563.61 L808.78 564.18 L809.87 564.71 L810.96 565.21 L812.04 565.67 L813.12 566.10 L814.19 566.48 L815.26 566.83 L816.33 567.15 L817.38 567.43 L818.43 567.67 L819.48 567.87 L820.52 568.04 L821.55 568.17 L822.57 568.26 L823.59 568.31 L824.60 568.33 L825.60 568.31 L826.59 568.25 L827.57 568.15 L828.55 568.02 L829.51 567.85 L830.46 567.64 L831.41 567.39 L832.34 567.10" fill="none" stroke="#707070" stroke-width="1.9" stroke-dasharray="8.5 7"/>
<path d="M666.18 447.06 L666.23 448.18 L666.32 449.30 L666.45 450.42 L666.62 451.54 L666.83 452.66 L667.07 453.77 L667.36 454.89 L667.69 456.00 L668.05 457.11 L668.46 458.22 L668.90 459.32 L669.38 460.42 L669.90 461.51 L670.46 462.60 L671.06 463.69 L671.69 464.77 L672.37 465.85 L673.08 466.92 L673.83 467.98 L674.61 469.04 L675.44 470.09 L676.30 471.14 L677.20 472.17 L678.14 473.20 L679.11 474.23 L680.12 475.24 L681.16 476.24 L682.24 477.24 L683.36 478.22 L684.51 479.20 L685.69 480.17 L686.91 481.12 L688.17 482.07 L689.46 483.00 L690.78 483.93 L692.13 484.84 L693.52 485.74 L694.94 486.63 L696.39 487.50 L697.87 488.36 L699.38 489.21 L700.92 490.05 L702.50 490.87 L704.10 491.68 L705.73 492.48 L707.39 493.26 L709.08 494.02 L710.79 494.77 L712.53 495.51 L714.30 496.23 L716.10 496.93 L717.92 497.62 L719.76 498.30 L721.63 498.95 L723.52 499.59 L725.43 500.22 L727.37 500.82 L729.33 501.41 L731.31 501.98 L733.31 502.53 L735.33 503.07 L737.37 503.59 L739.43 504.09 L741.50 504.57 L743.59 505.03 L745.70 505.48 L747.83 505.90 L749.97 506.31 L752.12 506.69 L754.29 507.06 L756.47 507.41 L758.67 507.74 L760.87 508.05 L763.09 508.34 L765.32 508.61 L767.55 508.86 L769.80 509.09 L772.05 509.30 L774.31 509.49 L776.58 509.66 L778.85 509.81 L781.13 509.94 L783.41 510.04 L785.69 510.13 L787.98 510.20 L790.27 510.25 L792.57 510.27 L794.86 510.28 L797.15 510.27 L799.44 510.23 L801.73 510.18 L804.02 510.10 L806.30 510.00 L808.58 509.89 L810.86 509.75 L813.13 509.59 L815.40 509.41 L817.65 509.22 L819.90 509.00 L822.14 508.76 L824.38 508.50 L826.60 508.23 L828.81 507.93 L831.01 507.61 L833.20 507.27 L835.38 506.92 L837.54 506.54 L839.69 506.15 L841.82 505.73 L843.94 505.30 L846.05 504.85 L848.13 504.38 L850.20 503.89 L852.25 503.38 L854.28 502.86 L856.29 502.32 L858.29 501.75 L860.26 501.18 L862.21 500.58 L864.13 499.97 L866.04 499.34 L867.92 498.69 L869.78 498.03 L871.61 497.35 L873.42 496.66 L875.21 495.94 L876.97 495.22 L878.70 494.48 L880.40 493.72 L882.08 492.95 L883.73 492.16 L885.35 491.36 L886.94 490.55 L888.50 489.72 L890.03 488.88 L891.53 488.02 L893.00 487.15 L894.43 486.27 L895.84 485.38 L897.21 484.48 L898.55 483.56 L899.86 482.63 L901.14 481.69 L902.38 480.74 L903.58 479.78 L904.76 478.81 L905.89 477.83 L906.99 476.84 L908.06 475.84 L909.09 474.83 L910.08 473.82 L911.04 472.79 L911.96 471.76 L912.85 470.72 L913.69 469.67 L914.50 468.62 L915.28 467.56 L916.01 466.49 L916.71 465.42 L917.37 464.34 L917.99 463.26 L918.57 462.17 L919.11 461.08 L919.62 459.98 L920.08 458.88 L920.51 457.77 L920.90 456.67 L921.25 455.56 L921.56 454.44 L921.83 453.33 L922.06 452.21 L922.25 451.09 L922.41 449.97 L922.52 448.85 L922.60 447.73" fill="none" stroke="#000" stroke-width="2.4" stroke-linecap="butt"/>
<path d="M707.00 538.45 L705.80 537.29 L704.61 536.09 L703.46 534.87 L702.33 533.62 L701.23 532.34 L700.16 531.03 L699.12 529.69 L698.10 528.33 L697.12 526.94 L696.16 525.53 L695.23 524.09 L694.33 522.62 L693.47 521.13 L692.63 519.62 L691.82 518.08 L691.05 516.52 L690.30 514.93 L689.59 513.33 L688.91 511.70 L688.26 510.05 L687.64 508.37 L687.05 506.68 L686.50 504.97 L685.98 503.24 L685.50 501.49 L685.04 499.72 L684.62 497.93 L684.24 496.12 L683.88 494.30 L683.56 492.46 L683.28 490.61 L683.03 488.74 L682.81 486.86 L682.63 484.96 L682.48 483.05 L682.37 481.12 L682.29 479.19 L682.24 477.24 L682.23 475.28 L682.26 473.31 L682.32 471.33 L682.41 469.34 L682.54 467.35 L682.70 465.34 L682.90 463.33 L683.13 461.31 L683.40 459.29 L683.70 457.26 L684.03 455.22 L684.40 453.18 L684.81 451.14 L685.24 449.09 L685.71 447.05 L686.22 445.00 L686.76 442.95 L687.33 440.90 L687.94 438.85 L688.58 436.80 L689.25 434.75 L689.95 432.71 L690.69 430.67 L691.46 428.63 L692.26 426.60 L693.09 424.57 L693.96 422.55 L694.86 420.53 L695.78 418.52 L696.74 416.52 L697.73 414.53 L698.75 412.55 L699.80 410.57 L700.88 408.61 L701.99 406.65 L703.12 404.71 L704.29 402.78 L705.48 400.86 L706.70 398.96 L707.95 397.07 L709.22 395.19 L710.53 393.33 L711.85 391.49 L713.21 389.66 L714.59 387.85 L715.99 386.06 L717.42 384.28 L718.87 382.52 L720.34 380.79 L721.84 379.07 L723.36 377.37 L724.91 375.70 L726.47 374.04 L728.06 372.41 L729.66 370.80 L731.29 369.21 L732.93 367.64 L734.60 366.10 L736.28 364.59 L737.98 363.10 L739.70 361.63 L741.43 360.19 L743.18 358.78 L744.95 357.40 L746.73 356.04 L748.53 354.71 L750.34 353.40 L752.16 352.13 L753.99 350.88 L755.84 349.67 L757.70 348.48 L759.57 347.32 L761.45 346.20 L763.34 345.10 L765.24 344.04 L767.15 343.01 L769.06 342.01 L770.99 341.04 L772.92 340.10 L774.85 339.20 L776.79 338.33 L778.74 337.49 L780.69 336.69 L782.64 335.92 L784.60 335.18 L786.56 334.48 L788.52 333.81 L790.48 333.17 L792.44 332.58 L794.40 332.01 L796.36 331.48 L798.32 330.99 L800.28 330.53 L802.23 330.11 L804.18 329.72 L806.13 329.37 L808.07 329.05 L810.01 328.77 L811.94 328.53 L813.87 328.32 L815.78 328.14 L817.69 328.01 L819.60 327.91 L821.49 327.84 L823.38 327.81 L825.25 327.82 L827.11 327.86 L828.97 327.94 L830.81 328.06 L832.64 328.21 L834.45 328.39 L836.26 328.61 L838.04 328.87 L839.82 329.16 L841.58 329.49 L843.32 329.85 L845.05 330.25 L846.76 330.68 L848.46 331.15 L850.13 331.65 L851.79 332.19 L853.43 332.76 L855.05 333.36 L856.65 334.00 L858.24 334.67 L859.80 335.38 L861.34 336.11 L862.85 336.88 L864.35 337.69 L865.83 338.52 L867.28 339.39 L868.70 340.29 L870.11 341.21 L871.49 342.18 L872.85 343.17 L874.18 344.19" fill="none" stroke="#000" stroke-width="2.4" stroke-linecap="butt"/>
<path d="M832.34 567.10 L833.26 566.78 L834.18 566.42 L835.08 566.02 L835.96 565.59 L836.84 565.12 L837.71 564.61 L838.56 564.06 L839.40 563.48 L840.22 562.86 L841.04 562.20 L841.83 561.51 L842.62 560.78 L843.39 560.01 L844.15 559.21 L844.89 558.37 L845.62 557.49 L846.33 556.58 L847.03 555.64 L847.71 554.66 L848.37 553.65 L849.02 552.60 L849.66 551.51 L850.27 550.40 L850.87 549.25 L851.46 548.06 L852.02 546.85 L852.57 545.60 L853.10 544.32 L853.61 543.01 L854.11 541.66 L854.59 540.29 L855.04 538.88 L855.49 537.45 L855.91 535.98 L856.31 534.49 L856.70 532.97 L857.06 531.41 L857.41 529.83 L857.73 528.23 L858.04 526.59 L858.33 524.93 L858.60 523.24 L858.85 521.53 L859.08 519.80 L859.28 518.03 L859.47 516.25 L859.64 514.44 L859.79 512.61 L859.92 510.76 L860.03 508.88 L860.12 506.98 L860.18 505.07 L860.23 503.13 L860.26 501.18 L860.26 499.20 L860.25 497.21 L860.21 495.20 L860.16 493.17 L860.08 491.13 L859.99 489.08 L859.87 487.00 L859.73 484.92 L859.57 482.82 L859.40 480.71 L859.20 478.58 L858.98 476.45 L858.74 474.30 L858.48 472.14 L858.20 469.98 L857.90 467.80 L857.58 465.62 L857.24 463.43 L856.88 461.24 L856.51 459.04 L856.11 456.83 L855.69 454.62 L855.26 452.41 L854.80 450.19 L854.33 447.97 L853.83 445.75 L853.32 443.53 L852.79 441.31 L852.24 439.09 L851.68 436.87 L851.09 434.66 L850.49 432.44 L849.87 430.23 L849.23 428.03 L848.58 425.83 L847.91 423.64 L847.22 421.45 L846.52 419.27 L845.80 417.10 L845.06 414.94 L844.31 412.78 L843.54 410.64 L842.76 408.51 L841.96 406.39 L841.15 404.28 L840.32 402.18 L839.48 400.10 L838.62 398.03 L837.75 395.98 L836.87 393.94 L835.98 391.92 L835.07 389.92 L834.15 387.93 L833.22 385.97 L832.27 384.02 L831.32 382.09 L830.35 380.18 L829.37 378.29 L828.38 376.42 L827.38 374.58 L826.37 372.76 L825.36 370.96 L824.33 369.18 L823.29 367.43 L822.25 365.70 L821.20 364.00 L820.14 362.33 L819.07 360.68 L817.99 359.06 L816.91 357.46 L815.82 355.90 L814.73 354.36 L813.63 352.85 L812.52 351.37 L811.41 349.92 L810.30 348.50 L809.18 347.11 L808.05 345.75 L806.93 344.42 L805.80 343.13 L804.66 341.87 L803.53 340.64 L802.39 339.44 L801.25 338.27 L800.11 337.14 L798.97 336.05 L797.83 334.99 L796.68 333.96 L795.54 332.97 L794.40 332.01 L793.26 331.09 L792.12 330.20 L790.98 329.36 L789.85 328.54 L788.71 327.76 L787.58 327.02 L786.45 326.32 L785.33 325.65 L784.21 325.02 L783.09 324.43 L781.98 323.88 L780.87 323.36 L779.76 322.88 L778.67 322.44 L777.57 322.04 L776.49 321.67 L775.41 321.34 L774.34 321.05 L773.27 320.80 L772.21 320.59 L771.16 320.41 L770.12 320.27 L769.08 320.17 L768.06 320.11 L767.04 320.09 L766.04 320.11 L765.04 320.16 L764.05 320.25 L763.07 320.38 L762.10 320.55 L761.15 320.75" fill="none" stroke="#000" stroke-width="2.4" stroke-linecap="butt"/>
<path d="M682.24 477.24L635.49 490.84" stroke="#000" stroke-width="2" fill="none"/>
<path d="M630.69 492.24L638.69 485.75L640.93 493.43z" fill="#000"/>
<path d="M860.26 501.18L912.20 545.80" stroke="#000" stroke-width="2" fill="none"/>
<path d="M915.99 549.06L906.18 545.90L911.39 539.83z" fill="#000"/>
<path d="M794.40 332.01L794.40 283.60" stroke="#000" stroke-width="2" fill="none"/>
<path d="M794.40 278.60L798.40 288.10L790.40 288.10z" fill="#000"/>
<circle cx="778.90" cy="349.00" r="6.1" fill="#fff" fill-opacity="0.3" stroke="#c9527f" stroke-width="1.9" stroke-opacity="0.85"/>
<circle cx="894.70" cy="383.90" r="6.1" fill="#fff" fill-opacity="0.3" stroke="#eaa553" stroke-width="1.9" stroke-opacity="0.85"/>
<circle cx="890.30" cy="441.60" r="6.1" fill="#fff" fill-opacity="0.3" stroke="#f3dc8c" stroke-width="1.9" stroke-opacity="0.85"/>
<circle cx="696.20" cy="503.60" r="6.1" fill="#fff" fill-opacity="0.3" stroke="#72bcb8" stroke-width="1.9" stroke-opacity="0.85"/>
<circle cx="702.50" cy="446.30" r="6.1" fill="#fff" fill-opacity="0.3" stroke="#6a9fd2" stroke-width="1.9" stroke-opacity="0.85"/>
<circle cx="731.60" cy="391.80" r="6.1" fill="#fff" fill-opacity="0.3" stroke="#7a6cb8" stroke-width="1.9" stroke-opacity="0.85"/>
<circle cx="786.40" cy="344.60" r="7.1" fill="#c9527f" fill-opacity="0.7"/>
<circle cx="829.60" cy="331.50" r="7.1" fill="#d5607f" fill-opacity="0.72"/>
<circle cx="872.30" cy="344.30" r="7.1" fill="#f4803f" fill-opacity="0.97"/>
<circle cx="898.40" cy="389.50" r="7.1" fill="#f4ad55" fill-opacity="0.93"/>
<circle cx="889.00" cy="438.40" r="7.1" fill="#f1d067" fill-opacity="0.9"/>
<circle cx="859.90" cy="501.00" r="7.1" fill="#f1f49c" fill-opacity="0.97"/>
<circle cx="810.30" cy="544.40" r="7.1" fill="#d6ea82" fill-opacity="0.95"/>
<circle cx="758.90" cy="560.00" r="7.1" fill="#a5da98" fill-opacity="0.92"/>
<circle cx="716.50" cy="544.40" r="7.1" fill="#5fc08d" fill-opacity="0.92"/>
<circle cx="690.80" cy="495.50" r="7.1" fill="#72bcb8" fill-opacity="0.62"/>
<circle cx="701.20" cy="440.40" r="7.1" fill="#6a9fd2" fill-opacity="0.66"/>
<circle cx="732.40" cy="391.10" r="7.1" fill="#8577c3" fill-opacity="0.72"/>
<circle cx="778.90" cy="349.00" r="6.1" fill="none" stroke="#c9527f" stroke-width="1.9" stroke-opacity="0.6"/>
<circle cx="894.70" cy="383.90" r="6.1" fill="none" stroke="#eaa553" stroke-width="1.9" stroke-opacity="0.6"/>
<circle cx="890.30" cy="441.60" r="6.1" fill="none" stroke="#f3dc8c" stroke-width="1.9" stroke-opacity="0.6"/>
<circle cx="696.20" cy="503.60" r="6.1" fill="none" stroke="#72bcb8" stroke-width="1.9" stroke-opacity="0.6"/>
<circle cx="702.50" cy="446.30" r="6.1" fill="none" stroke="#6a9fd2" stroke-width="1.9" stroke-opacity="0.6"/>
<circle cx="731.60" cy="391.80" r="6.1" fill="none" stroke="#7a6cb8" stroke-width="1.9" stroke-opacity="0.6"/>
<text class="t it" x="769.60" y="277.80">S<tspan style="font-size:9.5px;font-style:normal" dy="3.2">3</tspan></text>
<text class="t it" x="642.80" y="512.80">S<tspan style="font-size:9.5px;font-style:normal" dy="3.2">1</tspan></text>
<text class="t it" x="918.00" y="537.60">S<tspan style="font-size:9.5px;font-style:normal" dy="3.2">2</tspan></text>
<circle cx="605.2" cy="307.6" r="5.6" fill="#fff" stroke="url(#glg)" stroke-width="1.8"/>
<circle cx="605.2" cy="329.8" r="6.5" fill="url(#glg)"/>
<text class="t" x="622.6" y="312.3">Input</text>
<text class="t" x="622.6" y="335.7">Prediction</text>
</g>
<g id="p_scatter">
<path d="M709.55 612.60V724.60M653.10 668.60H766.00" stroke="#cdcdcd" stroke-width="1.2" fill="none"/>
<rect x="653.10" y="612.60" width="112.90" height="112.00" fill="none" stroke="#000" stroke-width="2.2"/>
<path d="M653.10 668.60h4.2" stroke="#000" stroke-width="1.5" fill="none"/>
<path d="M709.55 724.60v-4.2" stroke="#000" stroke-width="1.5" fill="none"/>
<text class="tk" text-anchor="end" x="639.50" y="616.90">1</text>
<text class="tk" text-anchor="end" x="639.50" y="672.90">0</text>
<text class="tk" text-anchor="end" x="639.50" y="728.90">-1</text>
<text class="tk" text-anchor="middle" x="651.90" y="745.90">-1</text>
<text class="tk" text-anchor="middle" x="709.55" y="745.90">0</text>
<text class="tk" text-anchor="middle" x="766.00" y="745.90">1</text>
<circle cx="708.80" cy="612.30" r="3.1" fill="#f6f4ac"/>
<circle cx="688.70" cy="619.40" r="3.1" fill="#f7e184"/>
<circle cx="728.50" cy="619.40" r="3.1" fill="#d9ea88"/>
<circle cx="674.50" cy="637.90" r="3.1" fill="#f7b264"/>
<circle cx="674.50" cy="639.80" r="2.5" fill="#fff" fill-opacity="0.28" stroke="#f7b264" stroke-width="1.1"/>
<circle cx="740.70" cy="637.10" r="3.1" fill="#a6db96"/>
<circle cx="743.90" cy="640.30" r="2.5" fill="#fff" fill-opacity="0.28" stroke="#a6db96" stroke-width="1.1"/>
<circle cx="669.10" cy="669.00" r="3.1" fill="#f3844a"/>
<circle cx="669.10" cy="668.00" r="2.5" fill="#fff" fill-opacity="0.28" stroke="#f3844a" stroke-width="1.1"/>
<circle cx="748.80" cy="668.00" r="3.1" fill="#72c496"/>
<circle cx="750.10" cy="666.60" r="2.5" fill="#fff" fill-opacity="0.28" stroke="#72c496" stroke-width="1.1"/>
<circle cx="675.20" cy="698.00" r="3.1" fill="#d2414f"/>
<circle cx="674.50" cy="696.30" r="2.5" fill="#fff" fill-opacity="0.28" stroke="#d2414f" stroke-width="1.1"/>
<circle cx="740.70" cy="698.00" r="3.1" fill="#54b2a2"/>
<circle cx="743.90" cy="696.30" r="2.5" fill="#fff" fill-opacity="0.28" stroke="#54b2a2" stroke-width="1.1"/>
<circle cx="689.20" cy="716.90" r="3.1" fill="#a01242"/>
<circle cx="725.00" cy="718.10" r="3.1" fill="#4484b6"/>
<circle cx="729.20" cy="716.90" r="2.5" fill="#fff" fill-opacity="0.28" stroke="#4484b6" stroke-width="1.1"/>
<circle cx="708.80" cy="724.20" r="3.1" fill="#6253a4"/>
<circle cx="843.80" cy="628.50" r="3.1" fill="#f79252"/>
<circle cx="849.40" cy="634.70" r="3.1" fill="#d64450"/>
<circle cx="849.00" cy="634.30" r="2.5" fill="#fff" fill-opacity="0.28" stroke="#d64450" stroke-width="1.1"/>
<circle cx="862.90" cy="650.90" r="3.1" fill="#f8e294"/>
<circle cx="863.90" cy="647.70" r="3.1" fill="#a81444"/>
<circle cx="863.70" cy="647.40" r="2.5" fill="#fff" fill-opacity="0.28" stroke="#a81444" stroke-width="1.1"/>
<circle cx="883.10" cy="668.00" r="3.1" fill="#6a5aaa"/>
<circle cx="883.50" cy="668.30" r="2.5" fill="#fff" fill-opacity="0.28" stroke="#6a5aaa" stroke-width="1.1"/>
<circle cx="903.90" cy="688.70" r="3.1" fill="#d4ea94"/>
<circle cx="904.10" cy="688.70" r="2.5" fill="#fff" fill-opacity="0.28" stroke="#d4ea94" stroke-width="1.1"/>
<circle cx="899.00" cy="688.70" r="3.1" fill="#448ac2"/>
<circle cx="915.00" cy="702.90" r="3.1" fill="#54b2a2"/>
<circle cx="918.20" cy="702.40" r="2.5" fill="#fff" fill-opacity="0.28" stroke="#54b2a2" stroke-width="1.1"/>
<circle cx="924.80" cy="706.10" r="3.1" fill="#86ca9c"/>
<circle cx="923.60" cy="708.30" r="2.5" fill="#fff" fill-opacity="0.28" stroke="#86ca9c" stroke-width="1.1"/>
<text class="t it" text-anchor="middle" x="709.4" y="769.0">S<tspan style="font-size:9.5px;font-style:normal" dy="3.2">1</tspan><tspan dy="-3.2" style="font-style:normal">/</tspan>S<tspan style="font-size:9.5px;font-style:normal" dy="3.2">0</tspan></text>
<text class="t it" text-anchor="middle" transform="translate(618.8 668.6) rotate(-90)">S<tspan style="font-size:9.5px;font-style:normal" dy="3.2">2</tspan><tspan dy="-3.2" style="font-style:normal">/</tspan>S<tspan style="font-size:9.5px;font-style:normal" dy="3.2">0</tspan></text>
<path d="M883.80 612.60V724.60M827.40 668.60H940.20" stroke="#cdcdcd" stroke-width="1.2" fill="none"/>
<rect x="827.40" y="612.60" width="112.80" height="112.00" fill="none" stroke="#000" stroke-width="1.8"/>
<path d="M827.40 668.60h4.2" stroke="#000" stroke-width="1.5" fill="none"/>
<path d="M883.80 724.60v-4.2" stroke="#000" stroke-width="1.5" fill="none"/>
<text class="tk" text-anchor="end" x="813.80" y="616.90">1</text>
<text class="tk" text-anchor="end" x="813.80" y="672.90">0</text>
<text class="tk" text-anchor="end" x="813.80" y="728.90">-1</text>
<text class="tk" text-anchor="middle" x="826.20" y="745.90">-1</text>
<text class="tk" text-anchor="middle" x="883.80" y="745.90">0</text>
<text class="tk" text-anchor="middle" x="940.20" y="745.90">1</text>
<text class="t it" text-anchor="middle" x="884.0" y="769.0">S<tspan style="font-size:9.5px;font-style:normal" dy="3.2">1</tspan><tspan dy="-3.2" style="font-style:normal">/</tspan>S<tspan style="font-size:9.5px;font-style:normal" dy="3.2">0</tspan></text>
<text class="t it" text-anchor="middle" transform="translate(793.6 668.6) rotate(-90)">S<tspan style="font-size:9.5px;font-style:normal" dy="3.2">3</tspan><tspan dy="-3.2" style="font-style:normal">/</tspan>S<tspan style="font-size:9.5px;font-style:normal" dy="3.2">0</tspan></text>
<rect x="963.2" y="611.4" width="18.2" height="113.2" fill="url(#gcb)" stroke="#000" stroke-width="1.9"/>
<text class="tk" text-anchor="middle" x="972.2" y="600.3">650</text>
<text class="tk" text-anchor="middle" x="972.2" y="746.6">450</text>
<text class="t" text-anchor="middle" transform="translate(991.2 667.6) rotate(90)">Wavelength (nm)</text>
</g>
<g id="p_a">
<g filter="url(#bl04)">
<path d="M57.00 194.60L157.40 250.40L157.40 256.60L57.00 200.80z" fill="#283240" stroke="#283240" stroke-width="0.6"/>
<path d="M157.40 250.40L257.80 194.60L257.80 200.80L157.40 256.60z" fill="#2f3a4a" stroke="#2f3a4a" stroke-width="0.6"/>
<path d="M57.00 194.60L157.40 138.80L257.80 194.60L157.40 250.40z" fill="#3a4556"/>
<path d="M81.20 194.00L157.40 151.65L233.60 194.00L157.40 236.35z" fill="#f7df86"/>
<path d="M88.60 194.00L157.40 155.76L226.20 194.00L157.40 232.24z" fill="#8a6912"/>
<g fill="#f3e6b0"><ellipse cx="97.59" cy="192.67" rx="1.35" ry="0.95"/><ellipse cx="102.38" cy="190.01" rx="1.35" ry="0.95"/><ellipse cx="107.16" cy="187.35" rx="1.35" ry="0.95"/><ellipse cx="111.95" cy="184.69" rx="1.35" ry="0.95"/><ellipse cx="116.73" cy="182.03" rx="1.35" ry="0.95"/><ellipse cx="121.52" cy="179.37" rx="1.35" ry="0.95"/><ellipse cx="126.30" cy="176.71" rx="1.35" ry="0.95"/><ellipse cx="131.08" cy="174.06" rx="1.35" ry="0.95"/><ellipse cx="135.87" cy="171.40" rx="1.35" ry="0.95"/><ellipse cx="140.65" cy="168.74" rx="1.35" ry="0.95"/><ellipse cx="145.44" cy="166.08" rx="1.35" ry="0.95"/><ellipse cx="150.22" cy="163.42" rx="1.35" ry="0.95"/><ellipse cx="155.01" cy="160.76" rx="1.35" ry="0.95"/><ellipse cx="159.79" cy="160.76" rx="1.35" ry="0.95"/><ellipse cx="164.58" cy="163.42" rx="1.35" ry="0.95"/><ellipse cx="169.36" cy="166.08" rx="1.35" ry="0.95"/><ellipse cx="174.15" cy="168.74" rx="1.35" ry="0.95"/><ellipse cx="178.93" cy="171.40" rx="1.35" ry="0.95"/><ellipse cx="183.72" cy="174.06" rx="1.35" ry="0.95"/><ellipse cx="188.50" cy="176.71" rx="1.35" ry="0.95"/><ellipse cx="193.28" cy="179.37" rx="1.35" ry="0.95"/><ellipse cx="198.07" cy="182.03" rx="1.35" ry="0.95"/><ellipse cx="202.85" cy="184.69" rx="1.35" ry="0.95"/><ellipse cx="207.64" cy="187.35" rx="1.35" ry="0.95"/><ellipse cx="212.42" cy="190.01" rx="1.35" ry="0.95"/><ellipse cx="217.21" cy="192.67" rx="1.35" ry="0.95"/><ellipse cx="217.21" cy="195.33" rx="1.35" ry="0.95"/><ellipse cx="212.42" cy="197.99" rx="1.35" ry="0.95"/><ellipse cx="207.64" cy="200.65" rx="1.35" ry="0.95"/><ellipse cx="202.85" cy="203.31" rx="1.35" ry="0.95"/><ellipse cx="198.07" cy="205.97" rx="1.35" ry="0.95"/><ellipse cx="193.28" cy="208.63" rx="1.35" ry="0.95"/><ellipse cx="188.50" cy="211.29" rx="1.35" ry="0.95"/><ellipse cx="183.72" cy="213.94" rx="1.35" ry="0.95"/><ellipse cx="178.93" cy="216.60" rx="1.35" ry="0.95"/><ellipse cx="174.15" cy="219.26" rx="1.35" ry="0.95"/><ellipse cx="169.36" cy="221.92" rx="1.35" ry="0.95"/><ellipse cx="164.58" cy="224.58" rx="1.35" ry="0.95"/><ellipse cx="159.79" cy="227.24" rx="1.35" ry="0.95"/><ellipse cx="155.01" cy="227.24" rx="1.35" ry="0.95"/><ellipse cx="150.22" cy="224.58" rx="1.35" ry="0.95"/><ellipse cx="145.44" cy="221.92" rx="1.35" ry="0.95"/><ellipse cx="140.65" cy="219.26" rx="1.35" ry="0.95"/><ellipse cx="135.87" cy="216.60" rx="1.35" ry="0.95"/><ellipse cx="131.08" cy="213.94" rx="1.35" ry="0.95"/><ellipse cx="126.30" cy="211.29" rx="1.35" ry="0.95"/><ellipse cx="121.52" cy="208.63" rx="1.35" ry="0.95"/><ellipse cx="116.73" cy="205.97" rx="1.35" ry="0.95"/><ellipse cx="111.95" cy="203.31" rx="1.35" ry="0.95"/><ellipse cx="107.16" cy="200.65" rx="1.35" ry="0.95"/><ellipse cx="102.38" cy="197.99" rx="1.35" ry="0.95"/><ellipse cx="97.59" cy="195.33" rx="1.35" ry="0.95"/></g>
<path d="M101.80 194.00L157.40 163.10L213.00 194.00L157.40 224.90z" fill="#0d0d0d"/>
<path d="M107.40 194.00L157.40 166.21L207.40 194.00L157.40 221.79z" fill="url(#gpk)"/>
<path d="M107.60 172.40L157.60 144.40L207.60 172.40L157.60 200.40z" fill="#cdd2c0" fill-opacity="0.86"/>
<path d="M107.6 172.4L157.6 200.4L207.6 172.4L207.6 173.6L157.6 201.6L107.6 173.6z" fill="#b4baaa" fill-opacity="0.8"/>
<path d="M108.40 148.40L158.60 176.70L208.80 148.40L208.80 151.00L158.60 179.30L108.40 151.00z" fill="#dfe3ee" fill-opacity="0.95"/>
<path d="M108.40 148.40L158.60 120.10L208.80 148.40L158.60 176.70z" fill="#c3c9de" fill-opacity="0.97"/>
<path d="M119.20 149.00L158.20 127.00L197.20 149.00L158.20 171.00z" fill="none" stroke="#d9a8a8" stroke-opacity="0.5" stroke-width="0.8"/>
<path d="M127.00 150.60L158.00 133.12L189.00 150.60L158.00 168.08z" fill="#a89c90" fill-opacity="0.22"/>
</g>
<g filter="url(#bl2)" opacity="0.4"><path d="M157.6 100L128 146L187 146z" fill="#fce6a8"/></g>
<g filter="url(#bl1)">
<path d="M156.8 103L158.6 103L184 138L132 138z" fill="url(#gcone)"/>
<ellipse cx="158.2" cy="146.6" rx="29.6" ry="21.2" fill="#efc774" fill-opacity="0.52"/>
</g>
<g filter="url(#bl04)">
<path d="M157.6 21.5h2v17.5h-2z" fill="#aeaa08"/>
<path d="M148.8 68.5C148.8 65.6 169.3 65.6 169.3 68.5L168.2 86.5C167.8 91 164.8 94 162.3 95.6L160.4 97.6L158.4 102.8L157.2 102.8L155.6 97.6L154.4 95.6C152 94 150.8 91 150.4 86.5z" fill="url(#gfg)"/>
<g stroke="#4c4c5a" stroke-width="0.7" opacity="0.55"><path d="M151.5 71.5L153.0 92"/><path d="M153.8 71.5L154.9 92"/><path d="M156.2 71.5L156.8 92"/><path d="M158.8 71.5L158.9 92"/><path d="M161.6 71.5L161.1 92"/><path d="M164.2 71.5L163.2 92"/><path d="M166.6 71.5L165.1 92"/></g>
<ellipse cx="159.1" cy="68.6" rx="10.2" ry="2.9" fill="#474754"/>
<path d="M157.5 38.2L159.7 38.2C160.6 43 162.4 47 163.3 51C164.6 56 165.5 62 165.4 70C163.5 71.4 154.6 71.4 152.2 70C152 62 152.8 56 154.4 51C155.4 47 156.8 43 157.5 38.2z" fill="url(#gfy)"/>
<g fill="#f0ec50" opacity="0.8"><circle cx="160.4" cy="46" r="0.9"/><circle cx="161.2" cy="50" r="0.9"/><circle cx="162" cy="54.2" r="1"/><circle cx="162.6" cy="58.4" r="1"/></g>
</g>
<path d="M194.4 147.8L233.4 142.6M193.2 171.4L237 167.2" stroke="#000" stroke-width="1.1" fill="none"/>
<text class="t" x="185.6" y="75.8">Fiber</text>
<text class="t" x="242.4" y="147">MS</text>
<text class="t" x="245.4" y="174">OCA</text>
<text class="t" transform="translate(75.6 237.6) rotate(27.5)">CMOS</text>
</g>
<g id="p_b">
<g transform="translate(320 30) scale(0.204604)" filter="url(#blb)">
<path d="M75 542 L100 534 L118 540 L118 664 L98 668 L75 654 z" fill="#8e8e98" />
<path d="M75 542 L100 534 L118 540 L96 552 z" fill="#b6b6c0" />
<path d="M75 640 L118 650 L118 668 L78 664 z" fill="#a4a4b0" />
<path d="M112 205 Q112 180 134 166 L318 60 L334 70 L334 154 L232 190 L216 670 L135 670 Q113 668 112 640 z" fill="#1a8a1e"/>
<path d="M180 170 L322 92 L332 154 L234 186 z" fill="#117616"/>
<path d="M190 250 L212 244 L212 640 L190 640 z" fill="#0f7013"/>
<path d="M112 205 Q112 182 132 170 L146 164 Q126 185 126 212 L126 650 Q113 648 112 640 z" fill="#3fae3f"/>
<ellipse cx="155" cy="296" rx="10.5" ry="20" fill="none" stroke="#e4f2dc" stroke-width="6.5"/>
<g fill="#c8e4c0"><circle cx="184" cy="288" r="2.8"/><circle cx="184" cy="305" r="2.8"/><circle cx="184" cy="345" r="2.8"/><circle cx="184" cy="368" r="2.8"/><circle cx="184" cy="397" r="2.8"/><circle cx="184" cy="420" r="2.8"/></g>
<path d="M198 512 L238 508 L238 540 L205 545 z" fill="#8a8a98" />
<ellipse cx="184" cy="543" rx="17" ry="17" fill="#ccd4f4"/><ellipse cx="186" cy="543" rx="8" ry="9" fill="#5a6296"/>
<path d="M322 60 L345 60 L345 150 L323 150 z" fill="#8a84ac" />
<path d="M313 40 L351 40 L351 62 A19 8 0 0 1 313 62z" fill="#8c86b0"/>
<ellipse cx="332" cy="40" rx="19" ry="9" fill="#aaa6cc"/><ellipse cx="332" cy="40" rx="10" ry="5" fill="#4a4668"/>
<path d="M216 200 L236 185 L332 154 L334 73 L361 66 L471 88 L490 100 L300 214 L276 232 z" fill="#ababab" />
<path d="M334 73 L361 66 L471 88 L350 150 L334 150 z" fill="#a0a0a0" />
<path d="M323 100 L345 100 L345 150 L324 150 z" fill="#8a84ac" />
<path d="M215 200 L280 212 L276 690 L214 668 z" fill="url(#gbs)" />
<path d="M143 168 L280 212 L280 256 L143 247 Q128 208 143 168z" fill="#a49e9e"/>
<path d="M143 168 L280 212 L280 226 L138 186z" fill="#c6c2c2"/>
<path d="M143 430 L236 445 L236 520 L143 515 Q128 474 143 430z" fill="#a49e9e"/>
<path d="M143 430 L236 445 L236 458 L138 447z" fill="#c6c2c2"/>
<path d="M272 234 Q273 214 292 203 L478 95 Q498 86 498 110 L498 572 Q498 584 488 589 L292 686 Q274 692 274 672 z" fill="url(#gbf)"/>
<path d="M347 652 L365 645 L366 712 L349 715 z" fill="#7c7aa4" />
<path d="M339 706 L377 702 L377 722 A19 9 0 0 1 339 726z" fill="#8482ac"/>
<ellipse cx="358" cy="726" rx="18" ry="8" fill="#6a6894"/>
<path d="M496 390 L530 364 L542 380 L503 408 z" fill="#5a6290" />
<ellipse cx="538" cy="374" rx="12" ry="18" transform="rotate(-25 538 374)" fill="#9aa2cc"/>
<path d="M322 384 L454 316 L458 322 L336 390 z" fill="#ebebeb" />
<path d="M320 386 L337 376 L337 600 L320 600 z" fill="#bcbcbc" />
<path d="M337 380 L458 320 L458 538 L337 600 z" fill="#f4f4f4" />
<ellipse cx="392" cy="470" rx="30" ry="62" fill="#c4c4c4" opacity="0.8"/>
<path d="M388 411 L532 451 L530 555 L388 515 A22 52 0 0 1 388 411z" fill="url(#gbk)"/>
<path d="M388 411 A22 52 0 0 0 388 515 A22 52 0 0 0 400 418z" fill="#a6a6a6" opacity="0.8"/>
<g stroke="#7c7c7c" stroke-width="2" opacity="0.3" fill="none"><path d="M410 416.8 Q426 470.8 410 520.8"/><path d="M425 421 Q441 475 425 525"/><path d="M440 425.2 Q456 479.2 440 529.2"/><path d="M455 429.4 Q471 483.4 455 533.4"/><path d="M470 433.6 Q486 487.6 470 537.6"/><path d="M485 437.8 Q501 491.8 485 541.8"/><path d="M500 442 Q516 496 500 546"/></g>
<ellipse cx="529" cy="503" rx="17" ry="52" fill="#505050"/>
<path d="M508 458 Q560 458 640 510 L722 545 L720 552 L640 550 Q560 562 518 548 Q496 500 508 458z" fill="url(#gby)"/>
<g stroke="#8a8a00" stroke-width="3.5" opacity="0.7" fill="none"><path d="M598 504.36 Q606 527.6 596 549.94"/><path d="M616 510.12 Q624 531.2 614 550.48"/><path d="M634 515.88 Q642 534.8 632 551.02"/><path d="M652 521.64 Q660 538.4 650 551.56"/><path d="M668 526.76 Q676 541.6 666 552.04"/></g>
</g>
<path d="M466.5 141.2L487 147.6" stroke="#c6c618" stroke-width="1.7" fill="none"/>
<g transform="translate(470 100) scale(0.22549)" filter="url(#blb2)">
<path d="M68 212 L140 135 L212 138 L225 160 L258 178 L262 330 L190 425 L70 398 z" fill="#1e1e1e" />
<path d="M68 212 L140 135 L212 138 L150 215 z" fill="#323232" />
<path d="M150 215 L212 138 L225 160 L258 178 L262 330 L150 345 z" fill="#262626" />
<path d="M250 180 L495 285 L495 425 L250 345 z" fill="#181818" />
<path d="M185 360 L300 300 L500 345 L572 430 L568 505 L200 438 z" fill="#1b1b1b" />
<path d="M200 400 L270 375 L480 420 L470 445 L245 415 z" fill="#2e2e2e" />
<path d="M190 410 L560 490 L565 515 L190 440 z" fill="#262626" />
<path d="M490 285 L535 252 L590 268 L680 262 L732 282 L735 455 L652 542 L565 520 L565 430 L490 410 z" fill="#1c1c1c" />
<path d="M590 268 L680 262 L732 282 L650 350 L585 330 z" fill="#2a2a2a" />
<path d="M650 350 L732 282 L735 455 L652 542 z" fill="#222222" />
<path d="M700 290 L718 282 L718 320 L700 328 z" fill="#3a3a3a" />
<path d="M258 190 L330 165 L530 215 L530 245 L485 285 L485 335 L258 285 z" fill="#6e6e78" />
<path d="M258 190 L330 165 L530 215 L485 235 L262 200 z" fill="#8a8a94" />
<path d="M262 240 L485 285 L485 295 L262 252 z" fill="#55555e" />
<path d="M440 205 L500 218 L490 232 L432 220 z" fill="#3a3a40" />
<path d="M335 315 L490 350 L490 376 L335 340 z" fill="#f2f2f2" />
<g stroke="#9a9a9a" stroke-width="5" opacity="0.8"><path d="M160 258L200 266"/><path d="M170 290L225 300" stroke-width="4" opacity="0.6"/></g>
<path d="M328 125 L328 160 A72 34 0 0 0 472 160 L472 125z" fill="#7e7676"/>
<ellipse cx="400" cy="125" rx="72" ry="36" fill="#b4acac"/>
<ellipse cx="400" cy="122" rx="48" ry="22" fill="#a29a9a"/>
<ellipse cx="398" cy="118" rx="9" ry="5" fill="#3c3838"/>
<path d="M370 175 L430 175 L425 200 L375 198 z" fill="#6a6468" />
<path d="M76 150 A26 13 0 0 1 128 150 L128 198 A26 13 0 0 1 76 198z" fill="#9aa6c4"/>
<ellipse cx="102" cy="150" rx="26" ry="13" fill="#c2cce6"/>
<path d="M588 280 A26 13 0 0 1 640 280 L640 330 A26 13 0 0 1 588 330z" fill="#9aa6c4"/>
<ellipse cx="614" cy="280" rx="26" ry="13" fill="#c2cce6"/>
<ellipse cx="266" cy="156" rx="18" ry="15" fill="#aab4d4"/>
</g>
<path d="M622 179.9L691 197.4" stroke="#c6c618" stroke-width="1.7" fill="none"/>
<path d="M417.4 94.4L446 77.2" stroke="#000" stroke-width="1.3" fill="none"/>
<text class="t" text-anchor="middle" x="483.6" y="69.6">3D printed</text>
<text class="t" text-anchor="middle" x="483.6" y="85.6">mount</text>
<text class="t" text-anchor="middle" x="391.2" y="197.4">Camera</text>
<text class="t" text-anchor="middle" transform="translate(539.2 235.6) rotate(13)">Polarization</text>
<text class="t" text-anchor="middle" transform="translate(536.4 251.6) rotate(13)">controller</text>
</g>
<g id="p_c">
<rect x="725.4" y="41.3" width="254.7" height="187.5" fill="url(#gcbg)"/>
<g clip-path="url(#cpc)">
<g transform="translate(780 60) scale(0.17903)">
<g filter="url(#blc8)" opacity="0.5"><path d="M420 770 L720 540 L750 590 L500 800z" fill="#b4b4b4"/><path d="M-200 960 L120 640 L80 610 L-280 900z" fill="#c4c4c4"/></g>
<g filter="url(#blc)">
<path d="M160 568 L405 738 L151 950 L-240 950 z" fill="#cc7624" />
<g stroke="#a3520f" stroke-width="11" fill="none" opacity="0.85"><path d="M205 640L-130 950"/><path d="M245 668L-50 950"/><path d="M288 694L24 950"/><path d="M330 718L88 950"/></g>
<g stroke="#e89a44" stroke-width="5" fill="none" opacity="0.7"><path d="M226 654L-90 950"/><path d="M267 681L-13 950"/><path d="M309 706L56 950"/></g>
<ellipse cx="150" cy="680" rx="16" ry="12" fill="#5a2e0c" opacity="0.7"/>
<path d="M135 495 L400 695 L692 495 L690 535 L402 748 L148 545 z" fill="#2c7238" />
<path d="M400 695 L692 495 L690 535 L402 748 z" fill="#2a6a34" />
<path d="M148 535 L402 738 L402 748 L148 545 z" fill="#5c9c5c" />
<path d="M610 545 L680 500 L680 535 L612 580 z" fill="#c8c4a0" opacity="0.7"/>
<path d="M125 425 L400 618 L695 412 L693 490 Q690 505 675 515 L420 695 Q402 706 385 694 L145 515 Q128 500 127 480z" fill="#1d1d1f"/>
<path d="M400 618 L695 412 L693 495 L404 702 z" fill="#232325" />
<path d="M150 520 L400 700 L690 500" fill="none" stroke="#0c0c0c" stroke-width="8"/>
<path d="M140 402 L375 238 Q392 226 412 236 L682 390 Q700 403 684 418 L420 608 Q400 620 380 606 L138 432 Q120 417 140 402z" fill="#2c2c2f"/>
<path d="M235 436 L380 345 L552 430 L396 546z" fill="#353538" stroke="#121212" stroke-width="7" stroke-linejoin="round"/>
<path d="M165 600 L262 548 L276 572 L182 640z" fill="url(#gcsc)"/>
<ellipse cx="174" cy="620" rx="24" ry="27" fill="#c4c4c4"/><ellipse cx="170" cy="622" rx="12" ry="14" fill="#8a8a8a"/>
<path d="M545 572 L628 610 L618 635 L540 598z" fill="url(#gcsc)"/>
<ellipse cx="614" cy="622" rx="22" ry="20" fill="#bcbcbc"/><ellipse cx="618" cy="624" rx="10" ry="10" fill="#8a8a8a"/>
<path d="M175 280 L225 310 L215 328 L165 300z" fill="#8a8a8a"/><ellipse cx="186" cy="292" rx="26" ry="20" fill="#a4a4a4"/><ellipse cx="184" cy="290" rx="12" ry="9" fill="#6c6c6c"/>
<path d="M560 305 L600 280 L610 300 L572 325z" fill="#8a8a8a"/><ellipse cx="586" cy="292" rx="26" ry="20" fill="#a8a8a8"/><ellipse cx="588" cy="290" rx="12" ry="9" fill="#707070"/>
<path d="M305 345 L305 430 A90 48 0 0 0 485 430 L485 345z" fill="url(#gcm)"/>
<path d="M305 395 A90 48 0 0 0 485 395 L485 430 A90 48 0 0 1 305 430z" fill="#1c1a18" opacity="0.55"/>
<path d="M305 415 A90 48 0 0 0 485 415 L485 430 A90 48 0 0 1 305 430z" fill="#141414" opacity="0.6"/>
<ellipse cx="395" cy="345" rx="90" ry="42" fill="#8a8274"/>
<path d="M340 255 L340 345 A60 30 0 0 0 460 345 L460 255z" fill="url(#gcs)"/>
<path d="M340 290 A60 28 0 0 0 460 290 L460 305 A60 28 0 0 1 340 305z" fill="#4a4038" opacity="0.75"/>
<path d="M342 325 A60 28 0 0 0 458 325 L458 338 A60 28 0 0 1 342 338z" fill="#5a3c34" opacity="0.7"/>
<ellipse cx="400" cy="255" rx="60" ry="26" fill="#a8a29a"/>
<ellipse cx="402" cy="252" rx="42" ry="17" fill="#3a3632"/>
<path d="M388 86 Q390 68 413 67 Q436 68 440 86 L452 245 Q412 268 368 245z" fill="#151515"/>
<path d="M398 90 L410 88 L400 240 L382 240z" fill="#303030" opacity="0.8"/>
<path d="M352 -110 Q378 -20 394 20 Q406 52 411 80" fill="none" stroke="#2a44bc" stroke-width="9"/>
</g></g></g>
<path d="M937.6 216.3H966" stroke="#000" stroke-width="2.1" fill="none"/>
<rect x="725.4" y="41.3" width="254.7" height="187.5" fill="none" stroke="#000" stroke-width="1.7"/>
</g>
</svg>
</body></html>
